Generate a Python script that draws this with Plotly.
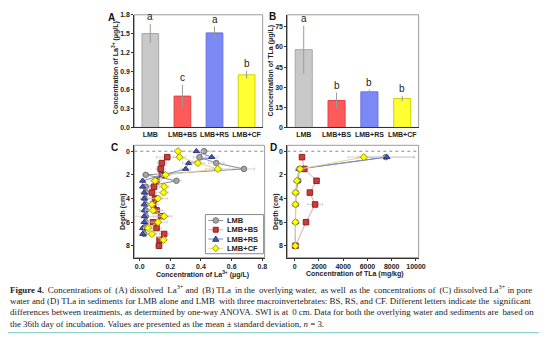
import plotly.graph_objects as go

W, H = 554, 338

# ---------------- data ----------------
treatments = ["LMB", "LMB+BS", "LMB+RS", "LMB+CF"]
bar_fill = ["#c8c8c8", "#ff5a5a", "#7d88f7", "#ffff33"]
bar_line = ["#a8a8a8", "#e04040", "#6070e0", "#d0d000"]

la_water = [1.50, 0.50, 1.51, 0.84]
la_water_sd = [0.15, 0.18, 0.10, 0.06]
la_letters = ["a", "c", "a", "b"]

tla_water = [58.0, 20.0, 26.5, 21.5]
tla_water_sd = [18.0, 6.0, 1.5, 2.0]
tla_letters = ["a", "b", "b", "b"]

# panel C: pore water La3+ vs depth
depth_lmb = [0, 0.5, 1, 1.5, 2, 2.5, 3, 3.5, 4, 4.5, 5, 5.5, 6, 6.5, 7]
pw_lmb = [0.42, 0.39, 0.50, 0.68, 0.04, 0.24, 0.04, 0.04, 0.035, 0.04, 0.04, 0.04, 0.04, 0.03, 0.03]
pw_lmb_sd = [0.05, 0.04, 0.05, 0.07, 0.02, 0.03, 0.03, 0.03, 0.03, 0.03, 0.04, 0.10, 0.03, 0.02, 0.02]

depth_bs = [0.5, 1, 1.5, 2, 2.5, 3, 3.5, 4, 4.5, 5, 5.5, 6, 6.5, 7, 7.5, 8]
pw_bs = [0.18, 0.145, 0.137, 0.145, 0.11, 0.094, 0.08, 0.10, 0.09, 0.11, 0.14, 0.087, 0.11, 0.16, 0.13, 0.126]
pw_bs_sd = [0.07, 0.03, 0.03, 0.03, 0.03, 0.03, 0.03, 0.05, 0.03, 0.04, 0.05, 0.04, 0.03, 0.03, 0.02, 0.02]

depth_rs = [0, 0.5, 1, 1.5, 2, 2.5, 3, 3.5, 4, 4.5, 5, 5.5, 6, 6.5, 7]
pw_rs = [0.37, 0.47, 0.32, 0.30, 0.15, 0.02, 0.02, 0.03, 0.03, 0.03, 0.03, 0.03, 0.03, 0.02, 0.02]
pw_rs_sd = [0.04, 0.04, 0.04, 0.03, 0.03, 0.01, 0.01, 0.01, 0.01, 0.01, 0.01, 0.01, 0.01, 0.01, 0.01]

depth_cf = [0, 0.5, 1, 1.5, 2, 2.5, 3, 3.5, 4, 4.5, 5, 5.5, 6, 6.5, 7, 7.5]
pw_cf = [0.25, 0.26, 0.38, 0.51, 0.17, 0.10, 0.16, 0.156, 0.12, 0.08, 0.087, 0.16, 0.12, 0.055, 0.08, 0.156]
pw_cf_sd = [0.02, 0.04, 0.04, 0.08, 0.03, 0.03, 0.03, 0.03, 0.06, 0.03, 0.05, 0.05, 0.06, 0.03, 0.03, 0.02]

# panel D: sediment TLa vs depth
depth_sed = [0.5, 1.5, 2.5, 3.5, 4.5, 6, 8]
sed_lmb = [7500, 380, 300, 100, 80, 80, 50]
sed_lmb_sd = [2300, 300, 150, 50, 40, 40, 30]
sed_bs = [600, 790, 1800, 1250, 1680, 930, 60]
sed_bs_sd = [100, 200, 150, 150, 600, 100, 30]
sed_rs = [7600, 350, 200, 80, 70, 70, 50]
sed_rs_sd = [2300, 200, 100, 40, 30, 30, 30]
sed_cf = [5700, 440, 175, 70, 60, 60, 50]
sed_cf_sd = [1300, 200, 80, 40, 30, 30, 30]

series_names = ["LMB", "LMB+BS", "LMB+RS", "LMB+CF"]
mk_symbol = ["circle", "square", "triangle-up", "diamond"]
mk_fill = ["#a6a6a6", "#c83c3c", "#4a58b0", "#ffff00"]
mk_line = ["#707070", "#902020", "#2a3480", "#9a9a00"]
ln_color = ["#8c8c8c", "#f2a0a0", "#7a88d0", "#e8d488"]

caption_lines = [
    "<b>Figure 4.</b> Concentrations of (A) dissolved La<sup>3+</sup> and (B) TLa in the overlying water, as well as the concentrations of (C) dissolved La<sup>3+</sup> in pore",
    "water and (D) TLa in sediments for LMB alone and LMB with three macroinvertebrates: BS, RS, and CF. Different letters indicate the significant",
    "differences between treatments, as determined by one-way ANOVA. SWI is at 0 cm. Data for both the overlying water and sediments are based on",
    "the 36th day of incubation. Values are presented as the mean ± standard deviation, <i>n</i> = 3.",
]
# extra thin spaces per line to imitate the justified text block
caption_extra = [10, 2, 2, 0]

# ---------------- figure ----------------
def px_x(p):
    return p / W

def px_y(p):
    return 1 - p / H

fig = go.Figure()

TICKFONT = dict(family="Liberation Sans", size=7, color="#222", weight="bold")

# A bars
fig.add_trace(go.Bar(
    x=treatments, y=la_water, width=0.52,
    marker=dict(color=bar_fill, line=dict(color=bar_line, width=1)),
    error_y=dict(type="data", array=la_water_sd, color="#9a9a9a", thickness=1, width=0),
    xaxis="x", yaxis="y", showlegend=False))
# B bars
fig.add_trace(go.Bar(
    x=treatments, y=tla_water, width=0.52,
    marker=dict(color=bar_fill, line=dict(color=bar_line, width=1)),
    error_y=dict(type="data", array=tla_water_sd, color="#9a9a9a", thickness=1, width=0),
    xaxis="x2", yaxis="y2", showlegend=False))

# C profiles
c_data = [(pw_lmb, pw_lmb_sd, depth_lmb), (pw_bs, pw_bs_sd, depth_bs),
          (pw_rs, pw_rs_sd, depth_rs), (pw_cf, pw_cf_sd, depth_cf)]
for i, (v, sd, d) in enumerate(c_data):
    fig.add_trace(go.Scatter(
        x=v, y=d, mode="lines+markers", name=series_names[i],
        line=dict(color=ln_color[i], width=1),
        marker=dict(symbol=mk_symbol[i], size=5.5, color=mk_fill[i],
                    line=dict(color=mk_line[i], width=1)),
        error_x=dict(type="data", array=sd, color="#cccccc", thickness=0.8, width=1.5),
        xaxis="x3", yaxis="y3", showlegend=False))

# D profiles
d_data = [(sed_lmb, sed_lmb_sd), (sed_bs, sed_bs_sd), (sed_rs, sed_rs_sd), (sed_cf, sed_cf_sd)]
for i, (v, sd) in enumerate(d_data):
    fig.add_trace(go.Scatter(
        x=v, y=depth_sed, mode="lines+markers", name=series_names[i],
        line=dict(color=ln_color[i], width=1),
        marker=dict(symbol=mk_symbol[i], size=5.5, color=mk_fill[i],
                    line=dict(color=mk_line[i], width=1)),
        error_x=dict(type="data", array=sd, color="#cccccc", thickness=0.8, width=1.5),
        xaxis="x4", yaxis="y4", showlegend=False))

axis_common = dict(showline=True, linecolor="#333", linewidth=1, ticks="outside",
                   ticklen=2, tickcolor="#333", tickfont=TICKFONT, showgrid=False,
                   zeroline=False, mirror=False)

dA_x = [px_x(136), px_x(266)]
dB_x = [px_x(291), px_x(424)]
dTop_y = [px_y(126), px_y(11)]
dC_x = [px_x(136), px_x(268)]
dD_x = [px_x(291), px_x(424)]
dBot_y = [px_y(259), px_y(144.3)]

fig.update_layout(
    width=W, height=H, margin=dict(l=0, r=0, t=0, b=0),
    paper_bgcolor="white", plot_bgcolor="white",
    font=dict(family="Liberation Sans", color="#222"),
    showlegend=False,
    xaxis=dict(domain=dA_x, range=[-0.5, 3.5], type="category", anchor="y", tickangle=0,
               **{**axis_common, "ticks": ""}),
    yaxis=dict(domain=dTop_y, range=[0, 1.8], tickvals=[0, 0.3, 0.6, 0.9, 1.2, 1.5, 1.8],
               tickformat=".1f", anchor="x", **axis_common),
    xaxis2=dict(domain=dB_x, range=[-0.5, 3.5], type="category", anchor="y2", tickangle=0,
                **{**axis_common, "ticks": ""}),
    yaxis2=dict(domain=dTop_y, range=[0, 84], tickvals=[0, 15, 30, 45, 60, 75],
                anchor="x2", **axis_common),
    xaxis3=dict(domain=dC_x, range=[-0.035, 0.815], tickvals=[0, 0.2, 0.4, 0.6, 0.8],
                tickformat=".1f", anchor="y3", **axis_common),
    yaxis3=dict(domain=dBot_y, range=[9, -0.5], tickvals=[0, 2, 4, 6, 8], anchor="x3",
                **axis_common),
    xaxis4=dict(domain=dD_x, range=[-610, 10220], tickvals=[0, 2000, 4000, 6000, 8000, 10000],
                tickformat="d", anchor="y4", **axis_common),
    yaxis4=dict(domain=dBot_y, range=[9, -0.5], tickvals=[0, 2, 4, 6, 8], anchor="x4",
                **axis_common),
    bargap=0.4,
)

shapes = []
# frames (gray mirror lines)
for xr, yr in [("x", "y"), ("x2", "y2"), ("x3", "y3"), ("x4", "y4")]:
    shapes.append(dict(type="rect", xref=f"{xr} domain", yref=f"{yr} domain",
                       x0=0, x1=1, y0=0, y1=1, line=dict(color="#9a9a9a", width=1),
                       layer="below"))
# SWI dashed lines at depth 0
for xr, yr in [("x3", "y3"), ("x4", "y4")]:
    shapes.append(dict(type="line", xref=f"{xr} domain", yref=yr, x0=0, x1=1, y0=0, y1=0,
                       line=dict(color="#888", width=1, dash="dot"), layer="below"))
# teal rule at bottom
shapes.append(dict(type="line", xref="paper", yref="paper", x0=px_x(8), x1=px_x(546),
                   y0=px_y(335.5), y1=px_y(335.5), line=dict(color="#8fd0d0", width=1.2)))

# ---- manual legend for panel C ----
LEG_X0, LEG_X1, LEG_Y0, LEG_Y1 = 208, 267, 215, 255
shapes.append(dict(type="rect", xref="paper", yref="paper",
                   x0=px_x(LEG_X0), x1=px_x(LEG_X1), y0=px_y(LEG_Y1), y1=px_y(LEG_Y0),
                   line=dict(color="#8a8a8a", width=1), fillcolor="white", layer="above"))
leg_rows = [221, 230.5, 240, 249.5]
r = 2.8

def pth(pts):
    return "M " + " L ".join(f"{px_x(a)},{px_y(b)}" for a, b in pts) + " Z"

ann = []
for i, yy in enumerate(leg_rows):
    shapes.append(dict(type="line", xref="paper", yref="paper", x0=px_x(211), x1=px_x(226),
                       y0=px_y(yy), y1=px_y(yy), line=dict(color=ln_color[i], width=1),
                       layer="above"))
    cx = 218.5
    mstyle = dict(line=dict(color=mk_line[i], width=1), fillcolor=mk_fill[i], layer="above",
                  xref="paper", yref="paper")
    if mk_symbol[i] == "circle":
        shapes.append(dict(type="circle", x0=px_x(cx - r), x1=px_x(cx + r),
                           y0=px_y(yy + r), y1=px_y(yy - r), **mstyle))
    elif mk_symbol[i] == "square":
        shapes.append(dict(type="rect", x0=px_x(cx - r + 0.3), x1=px_x(cx + r - 0.3),
                           y0=px_y(yy + r - 0.3), y1=px_y(yy - r + 0.3), **mstyle))
    elif mk_symbol[i] == "triangle-up":
        shapes.append(dict(type="path", path=pth([(cx - r - 0.3, yy + r - 0.5), (cx + r + 0.3, yy + r - 0.5),
                                                   (cx, yy - r - 0.3)]), **mstyle))
    else:
        shapes.append(dict(type="path", path=pth([(cx, yy - r - 0.5), (cx + r + 0.5, yy),
                                                   (cx, yy + r + 0.5), (cx - r - 0.5, yy)]), **mstyle))
    ann.append(dict(x=px_x(228), y=px_y(yy), xref="paper", yref="paper", text=series_names[i],
                    showarrow=False, xanchor="left", yanchor="middle",
                    font=dict(family="Liberation Sans", size=7.5, color="#222", weight="bold")))

fig.update_layout(shapes=shapes)

# significance letters
for i, t in enumerate(treatments):
    ann.append(dict(x=t, y=la_water[i] + la_water_sd[i], xref="x", yref="y", text=la_letters[i],
                    showarrow=False, yanchor="bottom", yshift=0,
                    font=dict(family="Liberation Sans", size=10, color="#222")))
    ann.append(dict(x=t, y=tla_water[i] + tla_water_sd[i], xref="x2", yref="y2", text=tla_letters[i],
                    showarrow=False, yanchor="bottom", yshift=0,
                    font=dict(family="Liberation Sans", size=10, color="#222")))

lab_font = dict(family="Liberation Sans", size=10, color="#111", weight="bold")
for txt, x, y in [("A", 113, 14), ("B", 276, 13), ("C", 116, 147), ("D", 277, 147)]:
    ann.append(dict(x=px_x(x), y=px_y(y), xref="paper", yref="paper", text=txt,
                    showarrow=False, xanchor="center", yanchor="middle", font=lab_font))

tfont = dict(family="Liberation Sans", size=7, color="#222", weight="bold")
ann.append(dict(x=px_x(117), y=px_y(65), xref="paper", yref="paper",
                text="Concentration of La<sup>3+</sup> (μg/L)", textangle=-90,
                showarrow=False, xanchor="center", yanchor="middle", font=tfont))
ann.append(dict(x=px_x(274.5), y=px_y(68), xref="paper", yref="paper",
                text="Concentration of TLa (μg/L)", textangle=-90,
                showarrow=False, xanchor="center", yanchor="middle", font=tfont))
ann.append(dict(x=px_x(124), y=px_y(212), xref="paper", yref="paper",
                text="Depth (cm)", textangle=-90,
                showarrow=False, xanchor="center", yanchor="middle", font=tfont))
ann.append(dict(x=px_x(279), y=px_y(212), xref="paper", yref="paper",
                text="Depth (cm)", textangle=-90,
                showarrow=False, xanchor="center", yanchor="middle", font=tfont))
ann.append(dict(x=px_x(205), y=px_y(276), xref="paper", yref="paper",
                text="Concentration of La<sup>3+</sup> (μg/L)",
                showarrow=False, xanchor="center", yanchor="middle", font=tfont))
ann.append(dict(x=px_x(360), y=px_y(276), xref="paper", yref="paper",
                text="Concentration of TLa (mg/kg)",
                showarrow=False, xanchor="center", yanchor="middle", font=tfont))


def spread(text, n_extra):
    """Insert thin spaces into some word gaps (outside of tags) to widen a line."""
    if n_extra <= 0:
        return text
    parts = text.split(" ")
    gaps = len(parts) - 1
    step = max(1, gaps // n_extra)
    out = parts[0]
    added = 0
    for k in range(1, len(parts)):
        prev = parts[k - 1]
        sep = " "
        if added < n_extra and k % step == 0 and "<" not in prev[-3:] and not prev.endswith("<i>"):
            sep = " \u2009"
            added += 1
        out += sep + parts[k]
    return out


cap_y = [291, 303, 315, 327]
for line, yy, ex in zip(caption_lines, cap_y, caption_extra):
    ann.append(dict(x=px_x(8), y=px_y(yy), xref="paper", yref="paper", text=spread(line, ex),
                    showarrow=False, xanchor="left", yanchor="middle",
                    font=dict(family="Liberation Serif", size=8.9, color="#222")))

fig.update_layout(annotations=ann)

fig.write_html("out.html")
